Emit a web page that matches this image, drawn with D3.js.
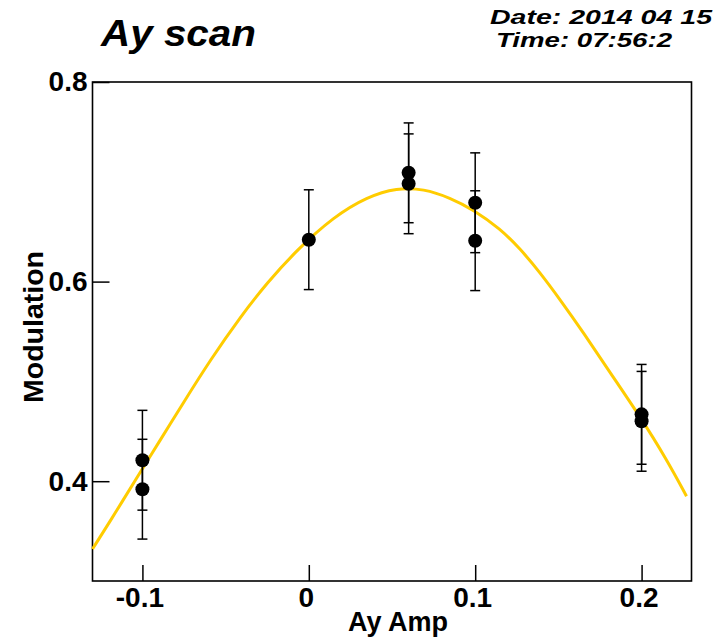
<!DOCTYPE html>
<html>
<head>
<meta charset="utf-8">
<script src="https://cdn.jsdelivr.net/npm/d3@7"></script>
<style>
    body { margin: 0; background: #fff; }
    text { font-family: "Liberation Sans", Arial, sans-serif; font-weight: bold; fill: #000; }
</style>
</head>
<body>
<div id="chart"></div>
<script>
// measured points (Ay amplitude vs modulation)
let pointX = [-0.1, -0.1, 0.0, 0.06, 0.06, 0.1, 0.1, 0.2, 0.2];
let pointY = [0.421, 0.392, 0.642, 0.709, 0.698, 0.679, 0.641, 0.467, 0.460];
let pointErr = [0.05, 0.05, 0.05, 0.05, 0.05, 0.05, 0.05, 0.05, 0.05];

// fitted curve
let fitX = [-0.13, -0.116, -0.105, -0.089, -0.076, -0.059, -0.041, -0.025, -0.007,
    0.015, 0.035, 0.053, 0.069, 0.085, 0.099, 0.115, 0.127, 0.139, 0.151,
    0.165, 0.181, 0.199, 0.215, 0.227];
let fitY = [0.332, 0.369, 0.399, 0.442, 0.477, 0.522, 0.565, 0.599, 0.632,
    0.665, 0.685, 0.694, 0.693, 0.684, 0.672, 0.653, 0.633, 0.609, 0.582,
    0.549, 0.509, 0.465, 0.422, 0.385];

let xTicks = [-0.1, 0, 0.1, 0.2];
let yTicks = [0.4, 0.6, 0.8];

let width = 714
let height = 641

let svg = d3.select("#chart").append("svg")
    .attr("width", width)
    .attr("height", height);

let x = d3.scaleLinear().domain([-0.13, 0.23]).range([92.5, 691.5]);
let y = d3.scaleLinear().domain([0.3, 0.8]).range([581, 82]);

// plain hyphen for negative numbers, like the original
let fmt = d => d === 0 ? "0" : d3.format(".1f")(d).replace("\u2212", "-");

// axes, ticks pointing inward
let xAxis = d3.axisBottom(x)
    .tickValues(xTicks)
    .tickSizeInner(-16)
    .tickSizeOuter(0)
    .tickPadding(6)
    .tickFormat(fmt);

let yAxis = d3.axisLeft(y)
    .tickValues(yTicks)
    .tickSizeInner(-17)
    .tickSizeOuter(0)
    .tickPadding(5)
    .tickFormat(fmt);

let gx = svg.append("g")
    .attr("transform", "translate(0," + y.range()[0] + ")")
    .call(xAxis);
let gy = svg.append("g")
    .attr("transform", "translate(" + x.range()[0] + ",0)")
    .call(yAxis);

[gx, gy].forEach(g => {
    g.select(".domain").remove();
    g.selectAll(".tick line").attr("stroke", "#000").attr("stroke-width", 1.5);
    g.selectAll(".tick text")
        .attr("font-size", 28)
        .attr("font-family", "Liberation Sans, Arial, sans-serif")
        .attr("font-weight", "bold")
        .attr("fill", "#000");
});
gx.selectAll(".tick text").attr("dx", -3);

// frame
svg.append("rect")
    .attr("x", x.range()[0])
    .attr("y", y.range()[1])
    .attr("width", x.range()[1] - x.range()[0])
    .attr("height", y.range()[0] - y.range()[1])
    .attr("fill", "none")
    .attr("stroke", "#000")
    .attr("stroke-width", 1.6);

// fit curve
let fit = fitX.map((v, i) => ({x: v, y: fitY[i]}));
svg.append("path")
    .datum(fit)
    .attr("fill", "none")
    .attr("stroke", "#ffcc00")
    .attr("stroke-width", 3)
    .attr("d", d3.line().x(d => x(d.x)).y(d => y(d.y)).curve(d3.curveBasis));

// error bars
let pts = pointX.map((v, i) => ({x: v, y: pointY[i], e: pointErr[i]}));
let bars = svg.append("g").attr("stroke", "#000").attr("stroke-width", 1.5);
bars.selectAll("line.bar")
    .data(pts)
    .enter().append("line")
    .attr("class", "bar")
    .attr("x1", d => x(d.x)).attr("x2", d => x(d.x))
    .attr("y1", d => y(d.y - d.e)).attr("y2", d => y(d.y + d.e));
bars.selectAll("line.capTop")
    .data(pts)
    .enter().append("line")
    .attr("class", "capTop")
    .attr("x1", d => x(d.x) - 5).attr("x2", d => x(d.x) + 5)
    .attr("y1", d => y(d.y + d.e)).attr("y2", d => y(d.y + d.e));
bars.selectAll("line.capBot")
    .data(pts)
    .enter().append("line")
    .attr("class", "capBot")
    .attr("x1", d => x(d.x) - 5).attr("x2", d => x(d.x) + 5)
    .attr("y1", d => y(d.y - d.e)).attr("y2", d => y(d.y - d.e));

// markers
svg.append("g").selectAll("circle")
    .data(pts)
    .enter().append("circle")
    .attr("cx", d => x(d.x))
    .attr("cy", d => y(d.y))
    .attr("r", 7)
    .attr("fill", "#000");

// titles
svg.append("text")
    .attr("x", 101)
    .attr("y", 46)
    .attr("font-size", 37)
    .attr("font-style", "italic")
    .attr("textLength", 155)
    .attr("lengthAdjust", "spacingAndGlyphs")
    .text("Ay scan");

svg.append("text")
    .attr("x", 490)
    .attr("y", 24)
    .attr("font-size", 20)
    .attr("font-style", "italic")
    .attr("textLength", 222)
    .attr("lengthAdjust", "spacingAndGlyphs")
    .text("Date: 2014 04 15");

svg.append("text")
    .attr("x", 496)
    .attr("y", 47)
    .attr("font-size", 20)
    .attr("font-style", "italic")
    .attr("textLength", 176)
    .attr("lengthAdjust", "spacingAndGlyphs")
    .text("Time: 07:56:2");

svg.append("text")
    .attr("x", 398)
    .attr("y", 631)
    .attr("text-anchor", "middle")
    .attr("font-size", 27)
    .text("Ay Amp");

svg.append("text")
    .attr("transform", "translate(43,327) rotate(-90)")
    .attr("text-anchor", "middle")
    .attr("font-size", 27)
    .attr("textLength", 152)
    .attr("lengthAdjust", "spacingAndGlyphs")
    .text("Modulation");
</script>
</body>
</html>
